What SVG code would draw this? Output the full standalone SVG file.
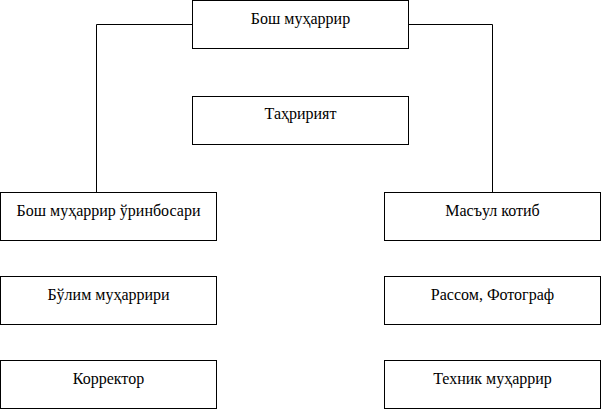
<svg xmlns="http://www.w3.org/2000/svg" width="602" height="410" viewBox="0 0 602 410">
<style>
.box{fill:#fff;stroke:#000;stroke-width:1}
.conn{fill:none;stroke:#000;stroke-width:1}
</style>
<rect width="602" height="410" fill="#fff"/>
<g id="connectors">
<polyline class="conn" points="192.5,24.5 96.5,24.5 96.5,192.5"/>
<polyline class="conn" points="408.5,24.5 492.5,24.5 492.5,192.5"/>
</g>
<g font-family="Liberation Serif, DejaVu Serif, serif" font-size="16" text-anchor="middle" fill="#000">
<g id="n-bosh"><rect class="box" x="192.5" y="0.5" width="216" height="48"/><text x="300.5" y="24">Бош муҳаррир</text></g>
<g id="n-tahririyat"><rect class="box" x="192.5" y="96.5" width="216" height="48"/><text x="300.5" y="119">Таҳририят</text></g>
<g id="n-urinbosar"><rect class="box" x="0.5" y="192.5" width="216" height="48"/><text x="108.5" y="216">Бош муҳаррир ўринбосари</text></g>
<g id="n-kotib"><rect class="box" x="384.5" y="192.5" width="216" height="48"/><text x="492.5" y="216">Масъул котиб</text></g>
<g id="n-bulim"><rect class="box" x="0.5" y="276.5" width="216" height="48"/><text x="108.5" y="300">Бўлим муҳаррири</text></g>
<g id="n-rassom"><rect class="box" x="384.5" y="276.5" width="216" height="48"/><text x="492.5" y="300">Рассом, Фотограф</text></g>
<g id="n-korrektor"><rect class="box" x="0.5" y="360.5" width="216" height="48"/><text x="108.5" y="384">Корректор</text></g>
<g id="n-texnik"><rect class="box" x="384.5" y="360.5" width="216" height="48"/><text x="492.5" y="384">Техник муҳаррир</text></g>
</g>
</svg>
